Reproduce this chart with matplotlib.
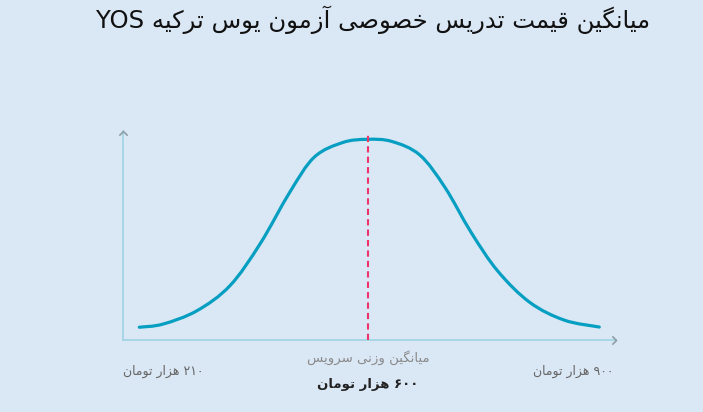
import matplotlib
matplotlib.use("Agg")
import matplotlib.pyplot as plt
from matplotlib.path import Path
from matplotlib.patches import PathPatch

# داده‌ها (موقعیت نسبی روی محور، 0 تا 100)
curve_x = [3.3, 8.1, 15.0, 21.7, 27.8, 33.9, 38.8, 44.6, 49.5, 54.5, 60.2,
           65.3, 70.6, 76.0, 82.5, 89.5, 96.6]
curve_y = [6.1, 7.6, 14.0, 26.0, 46.0, 71.0, 87.5, 94.5, 96.0, 95.0, 88.5,
           73.0, 51.5, 33.0, 18.0, 9.5, 6.2]
mean_x = 49.7

title = "میانگین قیمت تدریس خصوصی آزمون یوس ترکیه YOS"
mean_label = "میانگین وزنی سرویس"
mean_price = "۶۰۰ هزار تومان"
min_price = "۲۱۰ هزار تومان"
max_price = "۹۰۰ هزار تومان"

# شکل‌دهی ساده حروف فارسی (matplotlib خودش اتصال حروف را انجام نمی‌دهد)
forms = {
    'ا': (0xFE8D, 0xFE8E), 'آ': (0xFE81, 0xFE82), 'د': (0xFEA9, 0xFEAA),
    'ذ': (0xFEAB, 0xFEAC), 'ر': (0xFEAD, 0xFEAE), 'ز': (0xFEAF, 0xFEB0),
    'ژ': (0xFB8A, 0xFB8B), 'و': (0xFEED, 0xFEEE),
    'ب': (0xFE8F, 0xFE90, 0xFE91, 0xFE92), 'پ': (0xFB56, 0xFB57, 0xFB58, 0xFB59),
    'ت': (0xFE95, 0xFE96, 0xFE97, 0xFE98), 'ث': (0xFE99, 0xFE9A, 0xFE9B, 0xFE9C),
    'ج': (0xFE9D, 0xFE9E, 0xFE9F, 0xFEA0), 'چ': (0xFB7A, 0xFB7B, 0xFB7C, 0xFB7D),
    'ح': (0xFEA1, 0xFEA2, 0xFEA3, 0xFEA4), 'خ': (0xFEA5, 0xFEA6, 0xFEA7, 0xFEA8),
    'س': (0xFEB1, 0xFEB2, 0xFEB3, 0xFEB4), 'ش': (0xFEB5, 0xFEB6, 0xFEB7, 0xFEB8),
    'ص': (0xFEB9, 0xFEBA, 0xFEBB, 0xFEBC), 'ض': (0xFEBD, 0xFEBE, 0xFEBF, 0xFEC0),
    'ط': (0xFEC1, 0xFEC2, 0xFEC3, 0xFEC4), 'ظ': (0xFEC5, 0xFEC6, 0xFEC7, 0xFEC8),
    'ع': (0xFEC9, 0xFECA, 0xFECB, 0xFECC), 'غ': (0xFECD, 0xFECE, 0xFECF, 0xFED0),
    'ف': (0xFED1, 0xFED2, 0xFED3, 0xFED4), 'ق': (0xFED5, 0xFED6, 0xFED7, 0xFED8),
    'ک': (0xFB8E, 0xFB8F, 0xFB90, 0xFB91), 'گ': (0xFB92, 0xFB93, 0xFB94, 0xFB95),
    'ل': (0xFEDD, 0xFEDE, 0xFEDF, 0xFEE0), 'م': (0xFEE1, 0xFEE2, 0xFEE3, 0xFEE4),
    'ن': (0xFEE5, 0xFEE6, 0xFEE7, 0xFEE8), 'ه': (0xFEE9, 0xFEEA, 0xFEEB, 0xFEEC),
    'ی': (0xFBFC, 0xFBFD, 0xFBFE, 0xFBFF),
}


def shape_word(word):
    out = []
    for i, ch in enumerate(word):
        if ch not in forms:
            out.append(ch)
            continue
        f = forms[ch]
        prev = word[i - 1] if i > 0 else None
        nxt = word[i + 1] if i + 1 < len(word) else None
        join_prev = prev in forms and len(forms[prev]) == 4
        join_next = len(f) == 4 and nxt in forms
        if join_prev and join_next:
            out.append(chr(f[3]))
        elif join_prev:
            out.append(chr(f[1]))
        elif join_next:
            out.append(chr(f[2]))
        else:
            out.append(chr(f[0]))
    return ''.join(out)


def rtl(text):
    tokens = []
    for w in text.split(' '):
        if any(c in forms for c in w):
            tokens.append(shape_word(w)[::-1])
        else:
            tokens.append(w)
    return ' '.join(tokens[::-1])


def smooth_path(xs, ys):
    # منحنی نرم (Catmull-Rom به Bezier)
    pts = list(zip(xs, ys))
    verts = [pts[0]]
    codes = [Path.MOVETO]
    for i in range(len(pts) - 1):
        p0 = pts[i - 1] if i > 0 else pts[i]
        p1 = pts[i]
        p2 = pts[i + 1]
        p3 = pts[i + 2] if i + 2 < len(pts) else pts[i + 1]
        c1 = (p1[0] + (p2[0] - p0[0]) / 6, p1[1] + (p2[1] - p0[1]) / 6)
        c2 = (p2[0] - (p3[0] - p1[0]) / 6, p2[1] - (p3[1] - p1[1]) / 6)
        verts += [c1, c2, p2]
        codes += [Path.CURVE4] * 3
    return Path(verts, codes)


bg = '#dae7f5'
fig = plt.figure(figsize=(7.03, 4.12), dpi=100, facecolor=bg)
ax = fig.add_axes([0.175, 0.1748, 0.7013, 0.5073])
ax.set_facecolor(bg)
ax.set_xlim(0, 100)
ax.set_ylim(0, 100)
ax.axis('off')

# محورها
ax.plot([0, 0], [0, 100], color='#a6d6e6', lw=1.4, clip_on=False, zorder=1)
ax.plot([0, 100], [0, 0], color='#a6d6e6', lw=1.4, clip_on=False, zorder=1)
chev_right = Path([(-1, -1), (0, 0), (-1, 1)], [Path.MOVETO, Path.LINETO, Path.LINETO])
chev_up = Path([(-1, -1), (0, 0), (1, -1)], [Path.MOVETO, Path.LINETO, Path.LINETO])
ax.plot([100], [0], marker=chev_right, ms=6, mfc='none', mec='#8e9ea6', mew=1.2,
        clip_on=False, zorder=2)
ax.plot([0], [100], marker=chev_up, ms=6, mfc='none', mec='#8e9ea6', mew=1.2,
        clip_on=False, zorder=2)

# منحنی توزیع
patch = PathPatch(smooth_path(curve_x, curve_y), facecolor='none',
                  edgecolor='#069fc1', lw=2.3, capstyle='round', zorder=3)
ax.add_patch(patch)

# خط میانگین
ax.plot([mean_x, mean_x], [0, 99], color='#f0336a', lw=1.5, dashes=(3, 2),
        clip_on=False, zorder=4)

fig.text(0.925, 0.951, rtl(title), ha='right', va='center', fontsize=17.5,
         color='#111111', family='DejaVu Sans')
fig.text(0.5235, 0.131, rtl(mean_label), ha='center', va='center', fontsize=9.5,
         color='#8a8a8a', family='DejaVu Sans')
fig.text(0.5235, 0.066, rtl(mean_price), ha='center', va='center', fontsize=9.5,
         color='#222222', family='DejaVu Sans', weight='bold')
fig.text(0.232, 0.098, rtl(min_price), ha='center', va='center', fontsize=9,
         color='#666666', family='DejaVu Sans')
fig.text(0.815, 0.098, rtl(max_price), ha='center', va='center', fontsize=9,
         color='#666666', family='DejaVu Sans')

fig.savefig('out.png', dpi=100, facecolor=bg)
